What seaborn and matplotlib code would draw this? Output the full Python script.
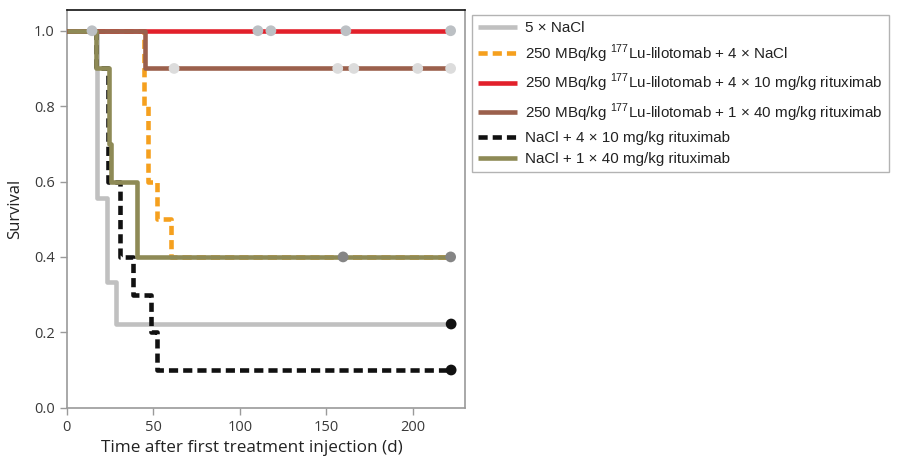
import matplotlib
matplotlib.use("Agg")
import matplotlib.pyplot as plt
import seaborn as sns
import pandas as pd

# ---- data (Kaplan-Meier step curves) ----
labels = [
    "5 × NaCl",
    r"250 MBq/kg $^{\mathregular{177}}$Lu-lilotomab + 4 × NaCl",
    r"250 MBq/kg $^{\mathregular{177}}$Lu-lilotomab + 4 × 10 mg/kg rituximab",
    r"250 MBq/kg $^{\mathregular{177}}$Lu-lilotomab + 1 × 40 mg/kg rituximab",
    "NaCl + 4 × 10 mg/kg rituximab",
    "NaCl + 1 × 40 mg/kg rituximab",
]
nacl_t = [0, 17.5, 23, 28.5, 222]
nacl_s = [1.0, 0.556, 0.333, 0.222, 0.222]
lu_nacl_t = [0, 44.8, 47, 52, 60, 222]
lu_nacl_s = [1.0, 0.8, 0.6, 0.5, 0.4, 0.4]
lu_r10_t = [0, 222]
lu_r10_s = [1.0, 1.0]
lu_r40_t = [0, 45, 222]
lu_r40_s = [1.0, 0.9, 0.9]
nacl_r10_t = [0, 17, 24, 31, 38, 48.5, 52, 222]
nacl_r10_s = [1.0, 0.9, 0.6, 0.4, 0.3, 0.2, 0.1, 0.1]
nacl_r40_t = [0, 17, 24.5, 25.8, 40.6, 222]
nacl_r40_s = [1.0, 0.9, 0.7, 0.6, 0.4, 0.4]

# censor marks
cens_nacl_t = [222]
cens_nacl_s = [0.222]
cens_lu_r10_t = [14.6, 110.4, 117.9, 161.2, 221.7]
cens_lu_r10_s = [1.0, 1.0, 1.0, 1.0, 1.0]
cens_lu_r40_t = [62, 156.5, 165.8, 202.7, 221.7]
cens_lu_r40_s = [0.9, 0.9, 0.9, 0.9, 0.9]
cens_nacl_r10_t = [222]
cens_nacl_r10_s = [0.1]
cens_nacl_r40_t = [159.6, 221.7]
cens_nacl_r40_s = [0.4, 0.4]

colors = ["#c0c0c0", "#f5a01e", "#e2202b", "#9b604c", "#111111", "#8e8a56"]
cens_colors = ["#111111", None, "#bcc0c4", "#dcdcdc", "#111111", "#858585"]

# ---- plot ----
sns.set_style("ticks")
plt.rcParams["font.family"] = ["Open Sans", "DejaVu Sans"]
plt.rcParams["mathtext.fontset"] = "custom"
plt.rcParams["mathtext.rm"] = "Liberation Sans"

fig = plt.figure(figsize=(9.01, 4.59), dpi=100)
ax = fig.add_axes([66.7 / 901, 1 - 407.7 / 459, (465 - 66.7) / 901, (407.7 - 10) / 459])

series = [
    (nacl_t, nacl_s), (lu_nacl_t, lu_nacl_s), (lu_r10_t, lu_r10_s),
    (lu_r40_t, lu_r40_s), (nacl_r10_t, nacl_r10_s), (nacl_r40_t, nacl_r40_s),
]
cens = [
    (cens_nacl_t, cens_nacl_s), ([], []), (cens_lu_r10_t, cens_lu_r10_s),
    (cens_lu_r40_t, cens_lu_r40_s), (cens_nacl_r10_t, cens_nacl_r10_s),
    (cens_nacl_r40_t, cens_nacl_r40_s),
]
dashed = [False, True, False, False, True, False]
order = [0, 1, 4, 2, 3, 5]
zorders = {0: 2, 1: 3, 4: 4, 2: 5, 3: 6, 5: 7}

handles = {}
for i in order:
    t, s = series[i]
    df = pd.DataFrame({"t": t, "s": s})
    sns.lineplot(data=df, x="t", y="s", ax=ax, estimator=None, sort=False,
                 drawstyle="steps-post", color=colors[i], lw=3.3,
                 zorder=zorders[i], solid_capstyle="butt")
    line = ax.lines[-1]
    if dashed[i]:
        line.set_dashes([2.0, 1.1])
        line.set_dash_capstyle("butt")
    handles[i] = line

for i in order:
    ct, cs = cens[i]
    if ct:
        dfc = pd.DataFrame({"t": ct, "s": cs})
        sns.scatterplot(data=dfc, x="t", y="s", ax=ax, color=cens_colors[i],
                        s=60, edgecolor="none", zorder=10, clip_on=False)

ax.set_xlim(0, 230)
ax.set_ylim(0, 1.055)
ax.set_xticks([0, 50, 100, 150, 200])
ax.set_yticks([0.0, 0.2, 0.4, 0.6, 0.8, 1.0])
ax.set_yticklabels(["0.0", "0.2", "0.4", "0.6", "0.8", "1.0"])
ax.tick_params(axis="both", colors="#9a9a9a", labelcolor="#3a3a3a",
               labelsize=10.5, length=5, width=1, direction="out")
ax.set_xlabel("Time after first treatment injection (d)", fontsize=12.3, color="#222222")
ax.xaxis.set_label_coords(0.4645, -0.080)
ax.set_ylabel("Survival", fontsize=12, color="#222222", labelpad=8)
for side in ["left", "bottom", "right"]:
    ax.spines[side].set_color("#9a9a9a")
    ax.spines[side].set_linewidth(1.2)
ax.spines["top"].set_color("#111111")
ax.spines["top"].set_linewidth(1.2)
ax.spines["right"].set_visible(True)
ax.spines["top"].set_visible(True)

leg = fig.legend([handles[i] for i in range(6)], labels,
                 loc="upper left", bbox_to_anchor=(472 / 901, 1 - 15 / 459),
                 bbox_transform=fig.transFigure, borderaxespad=0,
                 frameon=True, fancybox=False, edgecolor="#a0a0a0",
                 prop={"family": "Liberation Sans", "size": 10.9},
                 handlelength=2.6, handletextpad=0.5, labelspacing=0.48,
                 borderpad=0.4)
leg.get_frame().set_linewidth(1.0)
for txt in leg.get_texts():
    txt.set_color("#222222")

fig.savefig("out.png", dpi=100)
